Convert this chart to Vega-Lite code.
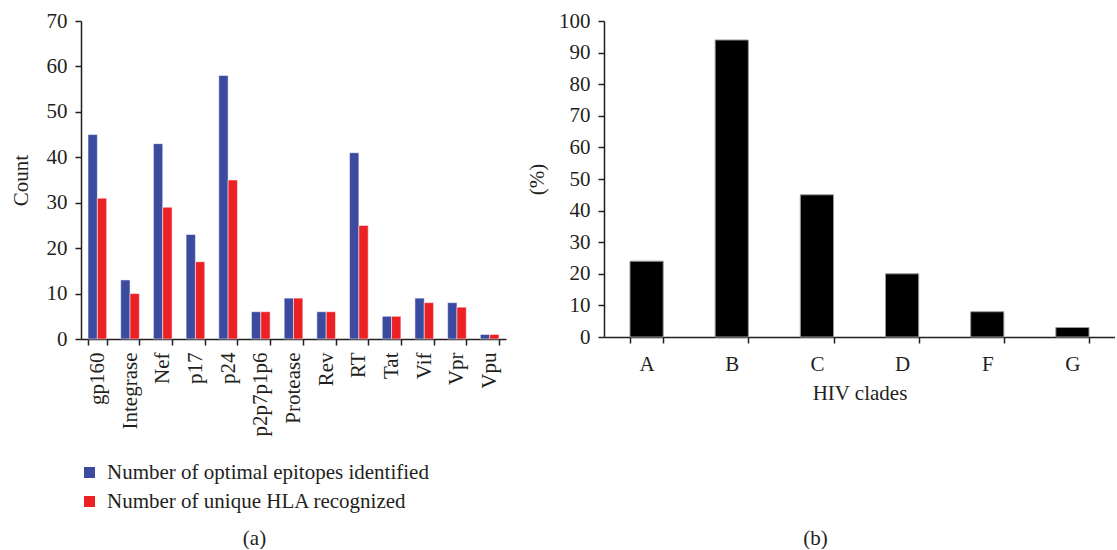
{
  "$schema": "https://vega.github.io/schema/vega-lite/v6.json",
  "background": "white",
  "padding": {"left": 10, "top": 10, "right": 0, "bottom": 0},
  "spacing": 20,
  "config": {
    "font": "Liberation Serif",
    "view": {"stroke": null},
    "axis": {
      "labelFont": "Liberation Serif",
      "titleFont": "Liberation Serif",
      "labelFontSize": 21,
      "titleFontSize": 21,
      "titleFontWeight": "normal",
      "labelColor": "#231f20",
      "titleColor": "#231f20",
      "domainColor": "#231f20",
      "tickColor": "#231f20",
      "domainWidth": 1.5,
      "tickWidth": 1.5,
      "tickSize": 6,
      "grid": false,
      "labelPadding": 8
    },
    "legend": {
      "labelFont": "Liberation Serif",
      "labelFontSize": 21,
      "labelColor": "#231f20",
      "labelLimit": 0
    },
    "title": {
      "font": "Liberation Serif",
      "fontSize": 21,
      "fontWeight": "normal",
      "color": "#231f20"
    }
  },
  "hconcat": [
    {
      "width": 425,
      "height": 318,
      "data": {
        "values": [
          {"protein": "gp160", "series": "Number of optimal epitopes identified", "count": 45},
          {"protein": "gp160", "series": "Number of unique HLA recognized", "count": 31},
          {"protein": "Integrase", "series": "Number of optimal epitopes identified", "count": 13},
          {"protein": "Integrase", "series": "Number of unique HLA recognized", "count": 10},
          {"protein": "Nef", "series": "Number of optimal epitopes identified", "count": 43},
          {"protein": "Nef", "series": "Number of unique HLA recognized", "count": 29},
          {"protein": "p17", "series": "Number of optimal epitopes identified", "count": 23},
          {"protein": "p17", "series": "Number of unique HLA recognized", "count": 17},
          {"protein": "p24", "series": "Number of optimal epitopes identified", "count": 58},
          {"protein": "p24", "series": "Number of unique HLA recognized", "count": 35},
          {"protein": "p2p7p1p6", "series": "Number of optimal epitopes identified", "count": 6},
          {"protein": "p2p7p1p6", "series": "Number of unique HLA recognized", "count": 6},
          {"protein": "Protease", "series": "Number of optimal epitopes identified", "count": 9},
          {"protein": "Protease", "series": "Number of unique HLA recognized", "count": 9},
          {"protein": "Rev", "series": "Number of optimal epitopes identified", "count": 6},
          {"protein": "Rev", "series": "Number of unique HLA recognized", "count": 6},
          {"protein": "RT", "series": "Number of optimal epitopes identified", "count": 41},
          {"protein": "RT", "series": "Number of unique HLA recognized", "count": 25},
          {"protein": "Tat", "series": "Number of optimal epitopes identified", "count": 5},
          {"protein": "Tat", "series": "Number of unique HLA recognized", "count": 5},
          {"protein": "Vif", "series": "Number of optimal epitopes identified", "count": 9},
          {"protein": "Vif", "series": "Number of unique HLA recognized", "count": 8},
          {"protein": "Vpr", "series": "Number of optimal epitopes identified", "count": 8},
          {"protein": "Vpr", "series": "Number of unique HLA recognized", "count": 7},
          {"protein": "Vpu", "series": "Number of optimal epitopes identified", "count": 1},
          {"protein": "Vpu", "series": "Number of unique HLA recognized", "count": 1}
        ]
      },
      "title": {"text": "(a)", "orient": "bottom", "anchor": "middle", "offset": 92, "dx": -39},
      "mark": {"type": "bar", "stroke": "white", "strokeOpacity": 0.5, "strokeWidth": 1},
      "encoding": {
        "x": {
          "field": "protein",
          "type": "nominal",
          "sort": null,
          "scale": {"paddingInner": 0.43, "paddingOuter": 0.215},
          "axis": {"title": null, "labelAngle": -90, "tickBand": "extent", "labelPadding": 7}
        },
        "xOffset": {"field": "series", "type": "nominal", "sort": null},
        "y": {
          "field": "count",
          "type": "quantitative",
          "scale": {"domain": [0, 70], "nice": false},
          "axis": {"title": "Count", "values": [0, 10, 20, 30, 40, 50, 60, 70], "titlePadding": 15}
        },
        "color": {
          "field": "series",
          "type": "nominal",
          "sort": null,
          "scale": {
            "domain": ["Number of optimal epitopes identified", "Number of unique HLA recognized"],
            "range": ["#3b4ba0", "#ed2024"]
          },
          "legend": {
            "title": null,
            "orient": "none",
            "legendX": -2,
            "legendY": 441,
            "symbolType": "square",
            "symbolSize": 121,
            "symbolStrokeWidth": 0,
            "rowPadding": 7,
            "labelOffset": 7,
            "labelFont": "Liberation Serif",
            "labelFontSize": 21
          }
        }
      }
    },
    {
      "width": 511,
      "height": 316,
      "data": {
        "values": [
          {"clade": "A", "pct": 24},
          {"clade": "B", "pct": 94},
          {"clade": "C", "pct": 45},
          {"clade": "D", "pct": 20},
          {"clade": "F", "pct": 8},
          {"clade": "G", "pct": 3}
        ]
      },
      "title": {"text": "(b)", "orient": "bottom", "anchor": "middle", "offset": 125, "dx": -44},
      "mark": {"type": "bar", "color": "black", "stroke": "#9a9a9a", "strokeWidth": 1},
      "encoding": {
        "x": {
          "field": "clade",
          "type": "nominal",
          "sort": null,
          "scale": {"paddingInner": 0.61, "paddingOuter": 0.305},
          "axis": {"title": "HIV clades", "labelAngle": 0, "tickBand": "extent", "labelPadding": 10, "titlePadding": 8}
        },
        "y": {
          "field": "pct",
          "type": "quantitative",
          "scale": {"domain": [0, 100], "nice": false},
          "axis": {"title": "(%)", "values": [0, 10, 20, 30, 40, 50, 60, 70, 80, 90, 100], "titlePadding": 11}
        }
      }
    }
  ]
}
